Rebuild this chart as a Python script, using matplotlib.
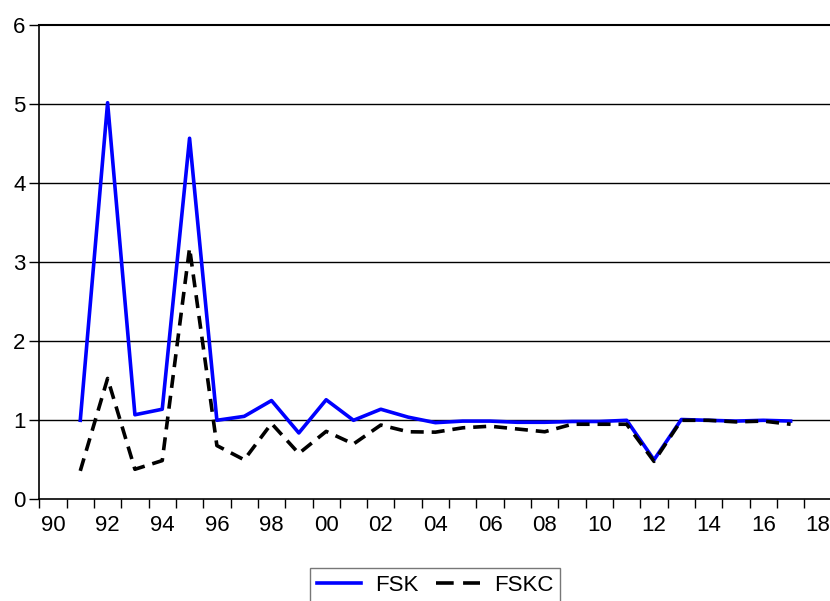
import matplotlib
matplotlib.use("Agg")
import matplotlib.pyplot as plt
from matplotlib.lines import Line2D
import numpy as np

plt.rcParams['font.family'] = ['Liberation Sans', 'DejaVu Sans']

years = list(range(1991, 2018))
fsk = [1.00, 5.02, 1.07, 1.14, 4.57, 1.00, 1.05, 1.25, 0.84, 1.26, 1.00, 1.14, 1.04,
       0.97, 0.99, 0.99, 0.975, 0.975, 0.985, 0.985, 1.00, 0.50, 1.01, 1.00, 0.99, 1.00, 0.99]
fskc = [0.36, 1.53, 0.38, 0.49, 3.18, 0.68, 0.50, 0.96, 0.58, 0.86, 0.70, 0.94, 0.855,
        0.85, 0.905, 0.925, 0.89, 0.855, 0.95, 0.95, 0.95, 0.48, 1.00, 1.00, 0.98, 0.99, 0.95]
label_years = ["90", "92", "94", "96", "98", "00", "02", "04", "06", "08",
               "10", "12", "14", "16", "18"]
y_ticks = [0, 1, 2, 3, 4, 5, 6]

W, H = 830, 601
fig = plt.figure(figsize=(W / 100, H / 100), dpi=100)
left_px, bottom_px, top_px = 39.3, 499.3, 25.3
px_per_year = 27.32
ax = fig.add_axes([left_px / W, 1 - bottom_px / H, 29 * px_per_year / W, (bottom_px - top_px) / H])

x = np.array(years) + 0.5
ax.plot(x, fsk, color='#0000ff', lw=2.6, label='FSK', zorder=3)
ax.plot(x, fskc, color='black', lw=2.6, ls=(0, (3.6, 2.2)), label='FSKC', zorder=3)

ax.set_xlim(1990, 2019)
ax.set_ylim(0, 6)

for yv in y_ticks[1:-1]:
    ax.axhline(yv, color='black', lw=1.0, zorder=1)

fs = 16
ax.set_yticks(y_ticks)
ax.set_yticklabels([str(v) for v in y_ticks], fontsize=fs)
ax.tick_params(axis='y', direction='out', length=7, width=1, pad=3)

ax.set_xticks(np.arange(1990, 2019))
ax.set_xticklabels([])
ax.tick_params(axis='x', which='major', direction='out', length=6.5, width=1)
ax.set_xticks(np.arange(1990, 2019, 2) + 0.5, minor=True)
ax.set_xticklabels(label_years, minor=True, fontsize=fs)
ax.tick_params(axis='x', which='minor', length=0, pad=11)

for s in ['left', 'bottom']:
    ax.spines[s].set_linewidth(1.2)
ax.spines['top'].set_linewidth(1.5)
ax.spines['right'].set_visible(False)

handles = [Line2D([], [], color='#0000ff', lw=2.6),
           Line2D([], [], color='black', lw=2.6, ls=(0, (4.9, 2.6)))]
leg = fig.legend(handles, ['FSK', 'FSKC'], loc='upper center',
                 bbox_to_anchor=(435 / W, 1 - 568 / H), ncol=2,
                 fontsize=fs, frameon=True, fancybox=False, edgecolor='#555555',
                 handlelength=2.0, columnspacing=0.8, borderpad=0.3, borderaxespad=0,
                 handletextpad=0.6)
leg.get_frame().set_linewidth(1.0)

fig.savefig('out.png', dpi=100)
